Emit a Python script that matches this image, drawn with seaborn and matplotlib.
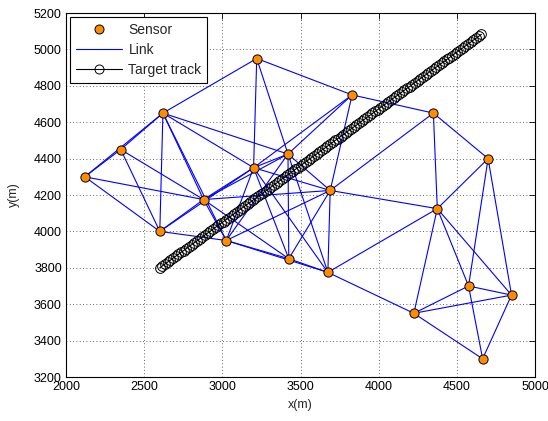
import matplotlib
matplotlib.use("Agg")
import matplotlib.pyplot as plt
from matplotlib.lines import Line2D
import seaborn as sns
import pandas as pd

# ---------------- data ----------------
sensor_x = [2120, 2350, 2620, 3220, 3830, 4350, 4700, 2600, 2880, 3200,
            3420, 3690, 3025, 3425, 3675, 4375, 4225, 4575, 4850, 4665]
sensor_y = [4300, 4450, 4650, 4950, 4750, 4650, 4400, 4000, 4175, 4350,
            4425, 4225, 3950, 3850, 3775, 4125, 3550, 3700, 3650, 3300]

# links between sensors (1-based sensor numbers)
link_from = [1, 1, 1, 1, 2, 2, 2, 3, 3, 3, 3, 3, 3, 4, 4, 4, 5, 5, 5, 5,
             6, 6, 6, 7, 7, 7, 8, 8, 8, 9, 9, 9, 9, 9, 10, 10, 10, 10, 10,
             11, 11, 11, 11, 12, 12, 12, 12, 13, 13, 14, 15, 15, 16, 16, 16,
             17, 17, 17, 18, 18, 19]
link_to = [2, 3, 8, 9, 3, 8, 9, 4, 8, 9, 10, 11, 13, 5, 10, 11, 6, 10, 11, 12,
           7, 12, 16, 16, 18, 19, 9, 10, 13, 10, 11, 12, 13, 14, 11, 12, 13, 14, 15,
           12, 13, 14, 15, 13, 14, 15, 16, 14, 15, 15, 16, 17, 17, 18, 19,
           18, 19, 20, 19, 20, 20]

track_x = [2600, 2617, 2634, 2651, 2668, 2685, 2702, 2719, 2736, 2753,
           2770, 2787, 2804, 2821, 2838, 2855, 2872, 2889, 2906, 2923,
           2940, 2957, 2974, 2991, 3008, 3025, 3042, 3059, 3076, 3093,
           3110, 3127, 3144, 3161, 3178, 3195, 3212, 3229, 3246, 3263,
           3280, 3297, 3314, 3331, 3348, 3365, 3382, 3399, 3416, 3433,
           3450, 3467, 3484, 3501, 3518, 3535, 3552, 3569, 3586, 3603,
           3620, 3637, 3654, 3671, 3688, 3705, 3722, 3739, 3756, 3773,
           3790, 3807, 3824, 3841, 3858, 3875, 3892, 3909, 3926, 3943,
           3960, 3977, 3994, 4011, 4028, 4045, 4062, 4079, 4096, 4113,
           4130, 4147, 4164, 4181, 4198, 4215, 4232, 4249, 4266, 4283,
           4300, 4317, 4334, 4351, 4368, 4385, 4402, 4419, 4436, 4453,
           4470, 4487, 4504, 4521, 4538, 4555, 4572, 4589, 4606, 4623,
           4640, 4657]
track_y = [3800, 3811, 3821, 3832, 3842, 3853, 3864, 3874, 3885, 3895,
           3906, 3917, 3927, 3938, 3948, 3959, 3970, 3980, 3991, 4001,
           4012, 4023, 4033, 4044, 4054, 4065, 4076, 4086, 4097, 4107,
           4118, 4129, 4139, 4150, 4160, 4171, 4182, 4192, 4203, 4213,
           4224, 4235, 4245, 4256, 4266, 4277, 4288, 4298, 4309, 4319,
           4330, 4341, 4351, 4362, 4372, 4383, 4394, 4404, 4415, 4425,
           4436, 4447, 4457, 4468, 4478, 4489, 4500, 4510, 4521, 4531,
           4542, 4553, 4563, 4574, 4584, 4595, 4606, 4616, 4627, 4637,
           4648, 4659, 4669, 4680, 4690, 4701, 4712, 4722, 4733, 4743,
           4754, 4765, 4775, 4786, 4796, 4807, 4818, 4828, 4839, 4849,
           4860, 4871, 4881, 4892, 4902, 4913, 4924, 4934, 4945, 4955,
           4966, 4977, 4987, 4998, 5008, 5019, 5030, 5040, 5051, 5061,
           5072, 5083]

x_ticks = [2000, 2500, 3000, 3500, 4000, 4500, 5000]
y_ticks = [3200, 3400, 3600, 3800, 4000, 4200, 4400, 4600, 4800, 5000, 5200]
legend_labels = ["Sensor", "Link", "Target track"]

# ---------------- style ----------------
sns.set_theme(style="white")
plt.rcParams["font.family"] = ["Liberation Sans", "DejaVu Sans"]
plt.rcParams["xtick.direction"] = "in"
plt.rcParams["ytick.direction"] = "in"

sensor_color = "#FF8C00"
link_color = "#0000FF"

fig = plt.figure(figsize=(5.48, 4.21), dpi=100)
ax = fig.add_axes([66 / 548, 1 - 377 / 421, (535 - 66) / 548, (377 - 13) / 421])

sensors = pd.DataFrame({"x": sensor_x, "y": sensor_y})
rows = []
for k, (a, b) in enumerate(zip(link_from, link_to)):
    rows.append({"link": k, "x": sensor_x[a - 1], "y": sensor_y[a - 1], "o": 0})
    rows.append({"link": k, "x": sensor_x[b - 1], "y": sensor_y[b - 1], "o": 1})
links = pd.DataFrame(rows)
track = pd.DataFrame({"x": track_x, "y": track_y})

sns.lineplot(data=links, x="x", y="y", units="link", estimator=None, sort=False,
             color=link_color, linewidth=0.8, ax=ax, legend=False, zorder=2)
sns.lineplot(data=track, x="x", y="y", sort=False, estimator=None, color="black",
             linewidth=0.8, marker="o", markersize=7, markerfacecolor="none",
             markeredgecolor="black", markeredgewidth=0.7, ax=ax, legend=False, zorder=3)
sns.scatterplot(data=sensors, x="x", y="y", color=sensor_color, edgecolor="black",
                linewidth=0.7, s=44, ax=ax, legend=False, zorder=4)

ax.set_xlim(2000, 5000)
ax.set_ylim(3200, 5200)
ax.set_xticks(x_ticks)
ax.set_yticks(y_ticks)
ax.tick_params(labelsize=9, length=4, width=0.6, top=True, right=True,
               colors="black", pad=3)
ax.grid(True, color="#333333", linestyle=(0, (1, 3)), linewidth=0.6)
for s in ax.spines.values():
    s.set_color("black")
    s.set_linewidth(0.8)
ax.set_xlabel("x(m)", fontsize=9, labelpad=4)
ax.set_ylabel("y(m)", fontsize=9, labelpad=10)

handles = [
    Line2D([], [], linestyle="none", marker="o", markersize=6.5,
           markerfacecolor=sensor_color, markeredgecolor="black", markeredgewidth=0.7),
    Line2D([], [], color=link_color, linewidth=0.8),
    Line2D([], [], color="black", linewidth=0.8, marker="o", markersize=6.5,
           markerfacecolor="none", markeredgecolor="black", markeredgewidth=0.7),
]
leg = ax.legend(handles, legend_labels, loc="upper left", fontsize=10,
                handlelength=3.3, handletextpad=0.5, borderpad=0.4,
                labelspacing=0.45, borderaxespad=0.3, fancybox=False,
                framealpha=1, edgecolor="black")
leg.get_frame().set_linewidth(0.8)

fig.savefig("out.png", dpi=100)
